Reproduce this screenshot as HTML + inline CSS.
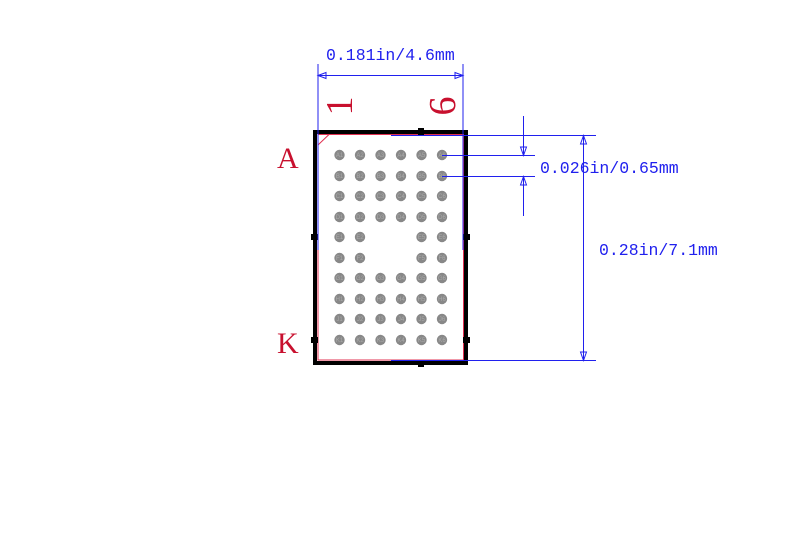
<!DOCTYPE html>
<html><head><meta charset="utf-8"><style>
html,body{margin:0;padding:0;background:#fff;width:800px;height:560px;overflow:hidden}
</style></head><body>
<svg width="800" height="560" xmlns="http://www.w3.org/2000/svg" font-family="Liberation Serif, serif">
<rect x="0" y="0" width="800" height="560" fill="#fff"/>
<rect x="318" y="134.5" width="145.5" height="225.5" fill="none" stroke="#e03050" stroke-width="1"/>
<line x1="318" y1="145" x2="329" y2="134.5" stroke="#e03050" stroke-width="1"/>
<rect x="315" y="132" width="151" height="231" fill="none" stroke="#000" stroke-width="4"/>
<g fill="#000">
<rect x="418" y="128" width="6" height="7"/><rect x="418" y="360" width="6" height="7"/>
<rect x="311" y="234" width="7" height="6"/><rect x="463" y="234" width="7" height="6"/>
<rect x="311" y="337" width="7" height="6"/><rect x="463" y="337" width="7" height="6"/>
</g>
<g id="balls" font-family="Liberation Sans, sans-serif" font-size="6" fill="#777" text-anchor="middle">
</g>
<g stroke="#2020ee" stroke-width="1" fill="none">
<line x1="318" y1="64" x2="318" y2="250"/>
<line x1="463" y1="64" x2="463" y2="250"/>
<line x1="318" y1="75.5" x2="463" y2="75.5"/>
<path d="M318 75.5 L326 72.5 L326 78.5 Z M463 75.5 L455 72.5 L455 78.5 Z"/>
<line x1="391" y1="135.5" x2="596" y2="135.5"/>
<line x1="391" y1="360.5" x2="596" y2="360.5"/>
<line x1="583.5" y1="135.5" x2="583.5" y2="360.5"/>
<path d="M583.5 135.5 L580.5 144 L586.5 144 Z M583.5 360.5 L580.5 352 L586.5 352 Z"/>
<line x1="442" y1="155.5" x2="535" y2="155.5"/>
<line x1="442" y1="176.5" x2="535" y2="176.5"/>
<line x1="523.5" y1="116" x2="523.5" y2="155.5"/>
<line x1="523.5" y1="176.5" x2="523.5" y2="216"/>
<path d="M523.5 155.5 L520.5 147 L526.5 147 Z M523.5 176.5 L520.5 185 L526.5 185 Z"/>
</g>
<g fill="#2020ee" font-size="16.5" font-family="Liberation Mono, monospace">
<text x="326" y="60">0.181in/4.6mm</text>
<text x="540" y="173">0.026in/0.65mm</text>
<text x="599" y="255">0.28in/7.1mm</text>
</g>
<g fill="#c8102e" font-size="30">
<text x="277" y="168">A</text>
<text x="277" y="353">K</text>
<text transform="translate(352,106) rotate(-90)" text-anchor="middle" font-size="38">1</text>
<text transform="translate(455,106) rotate(-90)" text-anchor="middle" font-size="38">6</text>
</g>
</svg>
<script>
var g=document.getElementById('balls');var xs=[339.5,360,380.5,401,421.5,442];var ys=[155,176,196,217,237,258,278,299,319,340];
var rows="ABCDEFGHJK";var s='';
for(var r=0;r<10;r++)for(var c=0;c<6;c++){if((r==4||r==5)&&(c==2||c==3))continue;
s+='<circle cx="'+xs[c]+'" cy="'+ys[r]+'" r="5.2" fill="#888"/>'+'<text x="'+xs[c]+'" y="'+(ys[r]+2.2)+'" fill="#aaa">'+rows[r]+(c+1)+'</text>';}
g.innerHTML=s;
</script>
</body></html>
